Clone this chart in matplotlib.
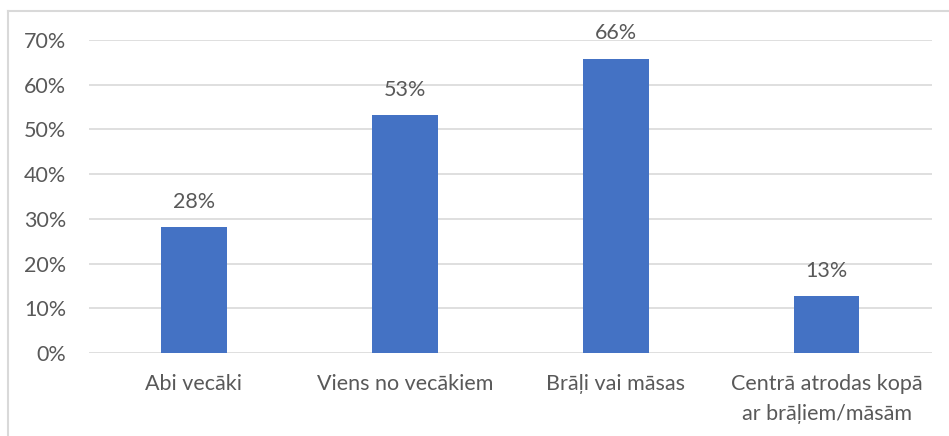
import matplotlib
matplotlib.use("Agg")
import matplotlib.pyplot as plt
from matplotlib.lines import Line2D

categories = ["Abi vecāki", "Viens no vecākiem", "Brāļi vai māsas",
              "Centrā atrodas kopā\nar brāļiem/māsām"]
values = [0.282, 0.532, 0.658, 0.127]
labels = ["28%", "53%", "66%", "13%"]
yticks = [0, 0.1, 0.2, 0.3, 0.4, 0.5, 0.6, 0.7]

plt.rcParams['font.family'] = ['Lato', 'DejaVu Sans']
text_col = '#595959'
fs = 15.5

fig = plt.figure(figsize=(9.49, 4.36), dpi=100)
ax = fig.add_axes([0.0933, 0.1904, 0.889, 0.7179])

x = list(range(len(categories)))
ax.bar(x, values, width=0.31, color='#4472C4', zorder=3)
for xi, v, lab in zip(x, values, labels):
    ax.annotate(lab, (xi, v), xytext=(0, 11), textcoords='offset points',
                ha='center', va='bottom', fontsize=fs, color=text_col)

ax.set_xlim(-0.5, len(categories) - 0.5)
ax.set_ylim(0, 0.7)
ax.set_yticks(yticks)
ax.set_yticklabels([f"{int(round(t * 100))}%" for t in yticks])
ax.set_xticks(x)
ax.set_xticklabels(categories, linespacing=1.65)
ax.tick_params(axis='both', length=0, labelsize=fs, labelcolor=text_col)
ax.tick_params(axis='y', pad=16)
ax.tick_params(axis='x', pad=15)
ax.grid(axis='y', color='#D9D9D9', linewidth=1.2, zorder=0)
for s in ax.spines.values():
    s.set_visible(False)

# chart frame (left and top edges visible)
fig.add_artist(Line2D([8 / 949, 8 / 949], [0, 1 - 11 / 436], transform=fig.transFigure,
                      color='#D9D9D9', linewidth=1.5))
fig.add_artist(Line2D([8 / 949, 1], [1 - 11 / 436, 1 - 11 / 436], transform=fig.transFigure,
                      color='#D9D9D9', linewidth=1.5))

fig.savefig("out.png", dpi=100)
